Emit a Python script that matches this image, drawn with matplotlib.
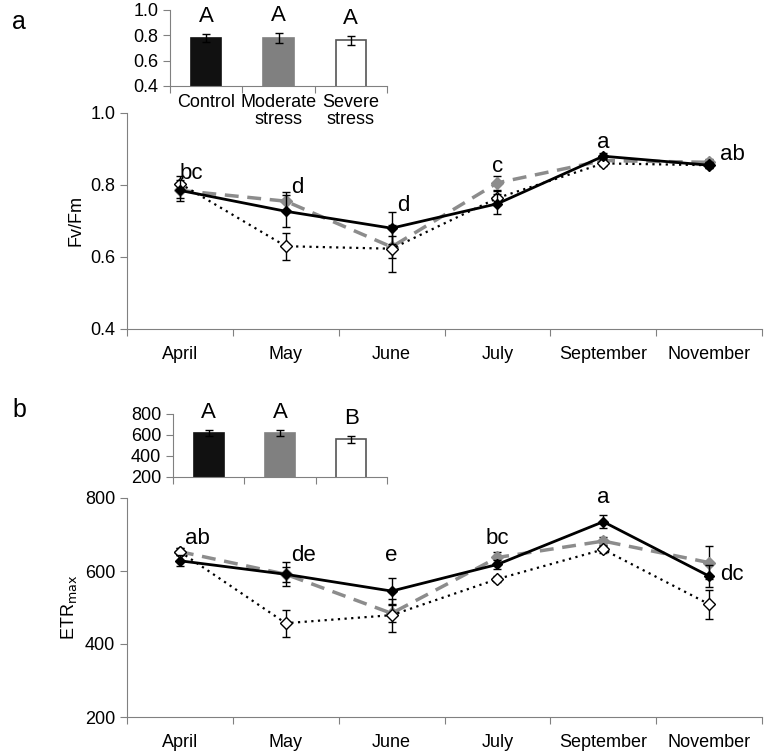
import matplotlib.pyplot as plt
import numpy as np

plt.rcParams['font.family'] = ['Liberation Sans', 'DejaVu Sans']

months = ["April", "May", "June", "July", "September", "November"]
treatments = ["Control", "Moderate\nstress", "Severe\nstress"]

# panel a: Fv/Fm
fv_control = [0.785, 0.727, 0.680, 0.748, 0.880, 0.855]
fv_control_err = [0.030, 0.045, 0.045, 0.028, 0.008, 0.008]
fv_moderate = [0.785, 0.755, 0.628, 0.806, 0.868, 0.863]
fv_moderate_err = [0.020, 0.025, 0.030, 0.020, 0.008, 0.008]
fv_severe = [0.804, 0.630, 0.623, 0.764, 0.860, 0.855]
fv_severe_err = [0.020, 0.037, 0.065, 0.020, 0.008, 0.008]
fv_letters = ["bc", "d", "d", "c", "a", "ab"]

fv_bar = [0.78, 0.78, 0.76]
fv_bar_err = [0.03, 0.04, 0.035]
fv_bar_letters = ["A", "A", "A"]

# panel b: ETRmax
etr_control = [628, 591, 545, 618, 735, 586]
etr_control_err = [15, 33, 37, 12, 18, 30]
etr_moderate = [653, 591, 484, 637, 682, 623]
etr_moderate_err = [10, 20, 25, 15, 10, 45]
etr_severe = [653, 457, 479, 578, 659, 509]
etr_severe_err = [10, 37, 45, 8, 10, 40]
etr_letters = ["ab", "de", "e", "bc", "a", "dc"]

etr_bar = [620, 620, 560]
etr_bar_err = [30, 25, 35]
etr_bar_letters = ["A", "A", "B"]

W, H = 766, 754
fig = plt.figure(figsize=(W / 100, H / 100), dpi=100)

spine_col = "#808080"
fs = 13


def px(l, t, r, b):
    return [l / W, 1 - b / H, (r - l) / W, (b - t) / H]


def style(ax):
    for s in ["top", "right"]:
        ax.spines[s].set_visible(False)
    for s in ["left", "bottom"]:
        ax.spines[s].set_color(spine_col)
    ax.tick_params(axis="both", which="both", colors=spine_col, labelcolor="black",
                   labelsize=fs, length=5)


def line_panel(ax, ctl, ctl_e, mod, mod_e, sev, sev_e, letters, ylim, yticks, fmt, ylabel, loff):
    x = np.arange(len(months))
    ax.errorbar(x, sev, yerr=sev_e, color="black", ls=(0, (1, 2)), lw=1.6,
                marker="D", ms=6, mfc="white", mec="black", mew=1,
                capsize=3, ecolor="black", elinewidth=1, zorder=3)
    ax.errorbar(x, mod, yerr=mod_e, color="#8c8c8c", ls=(0, (4, 2.5)), lw=2.5,
                marker="D", ms=6, mfc="#8c8c8c", mec="#8c8c8c",
                capsize=3, ecolor="black", elinewidth=1, zorder=2)
    ax.errorbar(x, ctl, yerr=ctl_e, color="black", ls="-", lw=2,
                marker="D", ms=5.5, mfc="black", mec="black",
                capsize=3, ecolor="black", elinewidth=1, zorder=4)
    ax.set_xlim(-0.5, len(months) - 0.5)
    ax.set_ylim(*ylim)
    ax.set_yticks(yticks)
    ax.set_yticklabels([fmt.format(v) for v in yticks])
    ax.set_xticks(np.arange(len(months) + 1) - 0.5)
    ax.set_xticks(x, minor=True)
    ax.set_xticklabels([])
    ax.set_xticklabels(months, minor=True)
    style(ax)
    ax.tick_params(axis="x", which="minor", length=0, pad=12)
    ax.set_ylabel(ylabel, fontsize=fs)
    for i, lab in enumerate(letters):
        top = max(ctl[i], mod[i], sev[i])
        dx, dy, ha = loff[i]
        ax.annotate(lab, (i, top), xytext=(dx, dy), textcoords="offset points",
                    ha=ha, va="bottom", fontsize=16)


def bar_panel(ax, vals, errs, letters, ylim, yticks, fmt, labels):
    x = np.arange(3)
    ax.bar(x, vals, width=0.42, color=["#111111", "#808080", "white"],
           edgecolor=["#111111", "#808080", "#555555"], lw=1.2,
           yerr=errs, capsize=3, error_kw=dict(elinewidth=1, ecolor="black"))
    ax.set_xlim(-0.5, 2.5)
    ax.set_ylim(*ylim)
    ax.set_yticks(yticks)
    ax.set_yticklabels([fmt.format(v) for v in yticks])
    ax.set_xticks(np.arange(4) - 0.5)
    ax.set_xticklabels([])
    ax.set_xticks(x, minor=True)
    ax.set_xticklabels(labels, minor=True, linespacing=1.0)
    style(ax)
    ax.tick_params(axis="x", which="minor", length=0, pad=6)
    for i, lab in enumerate(letters):
        ax.annotate(lab, (i, vals[i] + errs[i]), xytext=(0, 5), textcoords="offset points",
                    ha="center", va="bottom", fontsize=16)


ax_a = fig.add_axes(px(127, 113, 762, 329))
line_panel(ax_a, fv_control, fv_control_err, fv_moderate, fv_moderate_err,
           fv_severe, fv_severe_err, fv_letters, (0.4, 1.0), [0.4, 0.6, 0.8, 1.0],
           "{:.1f}", "Fv/Fm",
           [(0, 0, "left"), (4, 2, "left"), (4, 9, "left"), (0, 4, "center"),
            (0, 2, "center"), (8, -2, "left")])

ax_ai = fig.add_axes(px(170, 10, 387, 86))
bar_panel(ax_ai, fv_bar, fv_bar_err, fv_bar_letters, (0.4, 1.0),
          [0.4, 0.6, 0.8, 1.0], "{:.1f}", [t for t in treatments])

ax_b = fig.add_axes(px(127, 498, 762, 717))
line_panel(ax_b, etr_control, etr_control_err, etr_moderate, etr_moderate_err,
           etr_severe, etr_severe_err, etr_letters, (200, 800), [200, 400, 600, 800],
           "{:.0f}", r"ETR$_{\mathrm{max}}$",
           [(4, 2, "left"), (4, 6, "left"), (0, 18, "center"), (0, 6, "center"),
            (0, 10, "center"), (8, -16, "left")])

ax_bi = fig.add_axes(px(173, 414, 387, 477))
bar_panel(ax_bi, etr_bar, etr_bar_err, etr_bar_letters, (200, 800),
          [200, 400, 600, 800], "{:.0f}", ["", "", ""])

fig.text(12 / W, 1 - 22 / H, "a", fontsize=18, va="center")
fig.text(12 / W, 1 - 410 / H, "b", fontsize=18, va="center")

fig.savefig("out.png", dpi=100)
